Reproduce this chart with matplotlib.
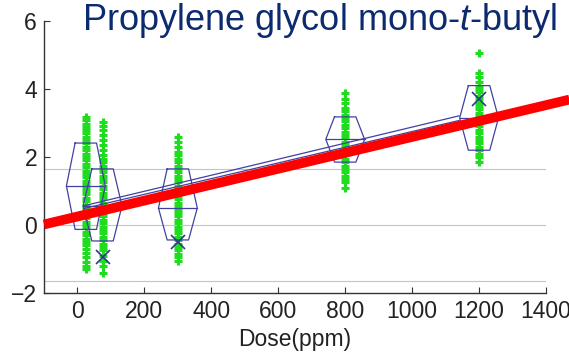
import matplotlib.pyplot as plt

plt.rcParams['font.family'] = ['Liberation Sans', 'DejaVu Sans']
plt.rcParams['mathtext.fontset'] = 'custom'
plt.rcParams['mathtext.it'] = 'Liberation Sans:italic'
plt.rcParams['mathtext.rm'] = 'Liberation Sans'

# dose groups (ppm)
doses = [25, 75, 300, 800, 1200]

# individual responses per dose group
resp_0 = [3.18, 3.08, 2.98, 2.88, 2.8, 2.7, 2.6, 2.5, 2.4, 2.3, 2.2, 2.1, 2.0, 1.9,
          1.8, 1.7, 1.6, 1.5, 1.4, 1.3, 1.2, 1.1, 1.0, 0.9, 0.8, 0.7, 0.6, 0.5, 0.4,
          0.3, 0.2, 0.1, 0.0, -0.1, -0.2, -0.3, -0.4, -0.5, -0.6, -0.7, -0.82, -0.95,
          -1.08, -1.2, -1.3]
resp_75 = [3.03, 2.9, 2.78, 2.65, 2.5, 2.35, 2.2, 2.05, 1.95, 1.85, 1.75, 1.65, 1.55,
           1.45, 1.35, 1.25, 1.15, 1.05, 0.95, 0.85, 0.75, 0.65, 0.55, 0.45, 0.35,
           0.25, 0.15, 0.05, -0.05, -0.15, -0.25, -0.35, -0.45, -0.55, -0.65, -0.75,
           -0.9, -1.05, -1.2, -1.4]
resp_300 = [2.6, 2.45, 2.3, 2.15, 2.05, 1.95, 1.85, 1.75, 1.65, 1.55, 1.45, 1.35,
            1.25, 1.15, 1.05, 0.95, 0.85, 0.75, 0.65, 0.55, 0.45, 0.35, 0.25, 0.15,
            0.05, -0.05, -0.15, -0.25, -0.35, -0.45, -0.55, -0.65, -0.75, -0.85,
            -0.95, -1.05]
resp_800 = [3.88, 3.72, 3.58, 3.45, 3.35, 3.25, 3.15, 3.05, 2.95, 2.85, 2.75, 2.65,
            2.55, 2.45, 2.35, 2.25, 2.15, 2.05, 1.95, 1.85, 1.75, 1.65, 1.55, 1.45,
            1.35, 1.25, 1.1]
resp_1200 = [5.06, 4.47, 4.35, 4.22, 4.1, 4.0, 3.9, 3.8, 3.7, 3.6, 3.5, 3.4, 3.3,
             3.2, 3.1, 3.0, 2.9, 2.8, 2.7, 2.6, 2.5, 2.4, 2.3, 2.2, 2.1, 2.0, 1.85]
responses = [resp_0, resp_75, resp_300, resp_800, resp_1200]

# hexagon summaries: upper edge, centre line, lower edge
hex_upper = [2.41, 1.65, 1.65, 3.18, 4.1]
hex_mid = [1.15, 0.56, 0.5, 2.52, 3.15]
hex_lower = [-0.13, -0.47, -0.44, 1.85, 2.2]

# X markers
cross_dose = [75, 300, 1200]
cross_val = [-0.93, -0.5, 3.7]

# thin blue fits and thick red trend
fit_intercepts = [0.52, 0.44]
fit_slopes = [0.00236, 0.00231]
fit_range = [20, 1140]
trend_intercept = 0.25
trend_slope = 0.00234
trend_range = [-100, 1470]

ref_levels = [1.65, 0, -1.65]

fig = plt.figure(figsize=(5.69, 3.58), dpi=100)
ax = fig.add_axes([0.0773, 0.1816, 0.8823, 0.7597])

for lvl in ref_levels:
    ax.axhline(lvl, color='#c4c4c4', lw=0.8, zorder=1)

for d, r in zip(doses, responses):
    ax.plot([d] * len(r), r, '+', color='#1fdc1f', ms=6, mew=2.2, zorder=2)

blue = '#4141a2'
wide, narrow = 58, 32
for d, up, mid, lo in zip(doses, hex_upper, hex_mid, hex_lower):
    xs = [d - narrow, d + narrow, d + wide, d + narrow, d - narrow, d - wide, d - narrow]
    ys = [up, up, mid, lo, lo, mid, up]
    ax.plot(xs, ys, color=blue, lw=0.9, zorder=3)
    ax.plot([d - wide, d + wide], [mid, mid], color=blue, lw=0.9, zorder=3)

ax.plot(cross_dose, cross_val, 'x', color='#2b3a86', ms=10, mew=1.2, zorder=4)

for b, m in zip(fit_intercepts, fit_slopes):
    ax.plot(fit_range, [b + m * x for x in fit_range], color=blue, lw=0.9, zorder=3)

ax.plot(trend_range, [trend_intercept + trend_slope * x for x in trend_range],
        color='#ff0000', lw=7, solid_capstyle='butt', zorder=5, clip_on=False)

ax.set_xlim(-100, 1400)
ax.set_ylim(-2, 6)
ax.set_xticks([0, 200, 400, 600, 800, 1000, 1200, 1400])
ax.set_yticks([-2, 0, 2, 4, 6])
ax.spines['top'].set_visible(False)
ax.spines['right'].set_visible(False)
for s in ('left', 'bottom'):
    ax.spines[s].set_color('#333333')
    ax.spines[s].set_linewidth(1.0)
ax.tick_params(direction='in', length=4, width=0.8, labelsize=16.5,
               colors='#333333', labelcolor='#222222', pad=5)
ax.set_xlabel('Dose(ppm)', fontsize=16.5, color='#222222', labelpad=4)

fig.text(82 / 569, 1 - 30 / 358, r'Propylene glycol mono-$\it{t}$-butyl',
         fontsize=26, color='#0c2a6e', va='baseline', ha='left')

fig.savefig('out.png', dpi=100)
